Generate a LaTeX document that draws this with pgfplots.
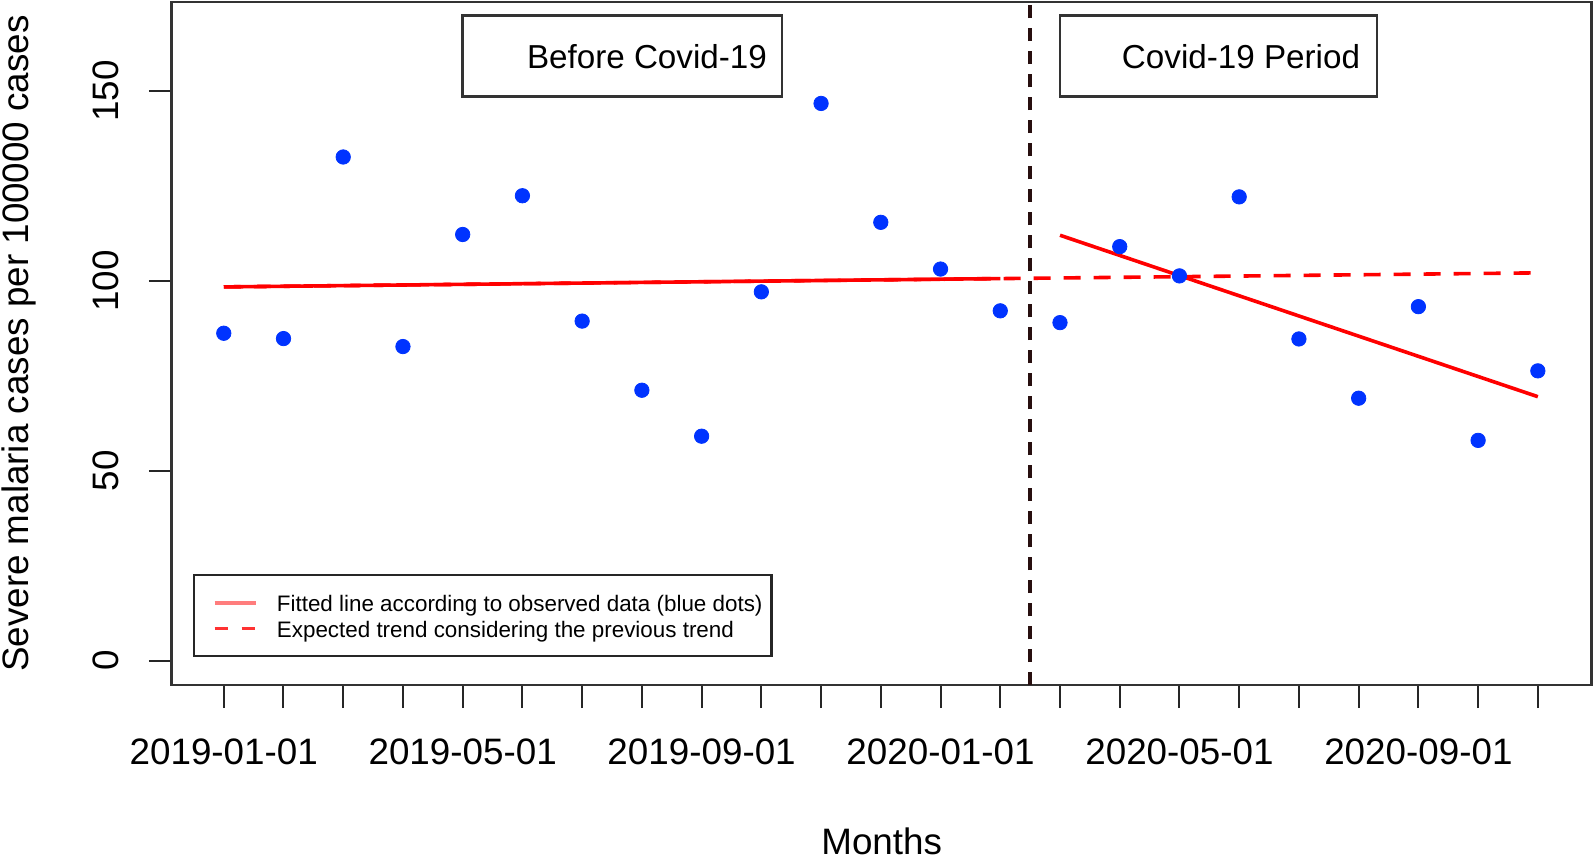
\documentclass[border=0pt]{standalone}
\usepackage{pgfplots}
\pgfplotsset{compat=1.18}
\usepackage{fontspec}
\setmainfont{Liberation Sans}
\definecolor{dotblue}{RGB}{0,51,255}
\definecolor{fitred}{RGB}{255,0,0}
\definecolor{legsolid}{RGB}{255,125,125}
\definecolor{legdash}{RGB}{255,50,50}
\definecolor{vline}{RGB}{40,15,15}
\pgfplotstableread{
x y
1 86.2
2 84.8
3 132.6
4 82.7
5 112.2
6 122.4
7 89.4
8 71.2
9 59.1
10 97.1
11 146.7
12 115.4
13 103.1
14 92.1
15 89.0
16 109.0
17 101.3
18 122.1
19 84.7
20 69.1
21 93.2
22 58.0
23 76.3
}\cases
\begin{document}
\begin{tikzpicture}
\begin{axis}[
  at={(0,0)}, anchor=south west,
  width=709.9pt, height=341.5pt, scale only axis,
  xmin=0.13, xmax=23.9, ymin=-6.4, ymax=173.4,
  axis line style={line width=1.3pt, black!80},
  xtick={1,...,23},
  xticklabels={2019-01-01,,,,2019-05-01,,,,2019-09-01,,,,2020-01-01,,,,2020-05-01,,,,2020-09-01,,},
  ytick={0,50,100,150},
  xtick pos=bottom, ytick pos=left,
  tick align=outside, major tick length=11.5pt,
  tick style={line width=1pt, black!85},
  /pgf/number format/assume math mode=true,
  ticklabel style={font=\fontsize{18.4}{20}\selectfont},
  xticklabel style={anchor=north, inner sep=0pt, yshift=-15pt},
  yticklabel style={xshift=-15.25pt, rotate=90, anchor=base, inner sep=0pt},
  xlabel={Months},
  ylabel={Severe malaria cases per 100000 cases},
  label style={font=\fontsize{18.4}{20}\selectfont},
  xlabel style={at={(axis description cs:0.5,-0.2284)}, anchor=center},
  ylabel style={at={(axis description cs:-0.1073,0.5)}, anchor=center},
  legend style={
    at={(axis description cs:0.0148,0.0403)}, anchor=south west,
    draw=black!85, line width=1.1pt, fill=white,
    font=\fontsize{11.2}{13}\selectfont,
    inner xsep=4.5pt, inner ysep=7.9pt,
    row sep=0.8pt, column sep=9.7pt,
    nodes={inner sep=0pt, text height=10.5pt, text depth=1.5pt},
  },
  legend cell align=left,
  legend image code/.code={\path (0pt,0pt); \draw[#1] (5pt,0pt) -- (25.5pt,0pt);},
]
\addplot[forget plot, only marks, mark=*, mark size=3.6pt, dotblue, mark options={draw=dotblue, fill=dotblue}] table[x=x, y=y] {\cases};
\addplot[forget plot, vline, line width=1.7pt, dash pattern=on 6.5pt off 5pt] coordinates {(14.5,-6.4) (14.5,173.4)};
\addplot[forget plot, fitred, line width=1.8pt, dash pattern=on 8.5pt off 6.5pt] coordinates {(1,98.4) (23,102.1)};
\addplot[forget plot, fitred, line width=1.8pt] coordinates {(1,98.4) (14,100.6)};
\addplot[forget plot, fitred, line width=1.8pt] coordinates {(15,112.0) (23,69.5)};
\addlegendimage{legsolid, line width=1.8pt}
\addlegendentry{Fitted line according to observed data (blue dots)}
\addlegendimage{legdash, line width=1.8pt, dash pattern=on 6.7pt off 6.7pt}
\addlegendentry{Expected trend considering the previous trend}
\draw[line width=1.2pt, black!80] (axis cs:5.0,148.5) rectangle (axis cs:10.345,169.9);
\node[anchor=east, inner sep=0pt, font=\fontsize{16.6}{18}\selectfont] at (axis cs:10.1,159.0) {Before Covid-19};
\draw[line width=1.2pt, black!80] (axis cs:15.0,148.5) rectangle (axis cs:20.31,169.9);
\node[anchor=east, inner sep=0pt, font=\fontsize{16.6}{18}\selectfont] at (axis cs:20.03,159.0) {Covid-19 Period};
\end{axis}
\pgfresetboundingbox
\path[use as bounding box] (-85.9pt,-87pt) rectangle (711.1pt,342.5pt);
\end{tikzpicture}
\end{document}
